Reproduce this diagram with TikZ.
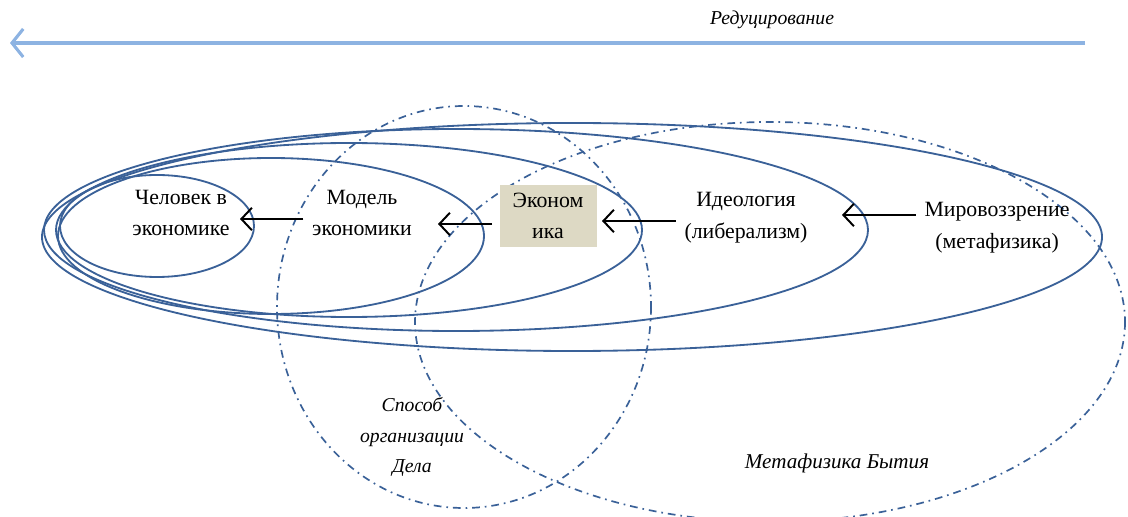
\documentclass[tikz,border=0pt]{standalone}
\usepackage{fontspec}
\setmainfont{Liberation Serif}
\usetikzlibrary{arrows.meta}
\definecolor{ringblue}{HTML}{3A6198}
\definecolor{skyblue}{HTML}{8DB3E2}
\definecolor{boxbeige}{HTML}{DDD9C4}

\begin{document}
\begin{tikzpicture}[x=0.025cm, y=-0.025cm,
    ring/.style={draw=ringblue, line width=1.3pt},
    orbit/.style={draw=ringblue, line width=1.2pt, dash pattern=on 5.5pt off 3.5pt on 1.2pt off 3.5pt},
    word/.style={align=center, inner sep=1pt, font=\fontsize{15.5}{22.5}\selectfont},
    note/.style={align=center, inner sep=1pt, font=\fontsize{14}{21.5}\selectfont\itshape},
    pointer/.style={-{Straight Barb[length=7.5pt, width=16pt]}, line width=1.4pt, shorten <=5pt}]
                \useasboundingbox (0,0) rectangle (1128,517);
                \foreach \cx/\cy/\rx/\ry in {157/226/97/51, 271/236/213/78, 349/230/293/87, 456/230/412/101, 572/237/530/114} {
                    \draw[ring] (\cx,\cy) ellipse ({\rx} and {\ry});
                }
                \draw[orbit] (464,307) ellipse (187 and 201);
                \draw[orbit] (770,322) ellipse (355 and 200);
                \node[word] (man) at (181,213) {Человек в\\экономике};
                \node[word] (model) at (362,213) {Модель\\экономики};
                \node[word, fill=boxbeige, minimum width=97*0.025cm, minimum height=62*0.025cm, inner sep=0pt] (econ) at (548,216) {Эконом\\ика};
                \node[word] (ideo) at (746,218) {Идеология\\(либерализм)};
                \node[word] (world) at (997,228) {Мировоззрение\\(метафизика)};
                \node[note] (reduce) at (772,20) {Редуцирование};
                \node[note] (way) at (412,437) {Способ\\организации\\Дела};
                \node[note, font=\fontsize{15}{21.5}\selectfont\itshape] (being) at (837,463) {Метафизика Бытия};
                \coordinate (start) at (1085,43);
                \coordinate (end) at (10,43);
                \draw[draw=skyblue, line width=2.2pt, -{Straight Barb[length=8pt, width=20pt]}] (start) -- (end);
                \foreach \from/\to/\tip/\y in {world/ideo/842/215, ideo/econ/602/221, econ/model/438/224, model/man/240/219} {
                    \coordinate (T-\to) at (\tip,\y);
                    \draw[pointer] (\from.west |- T-\to) -- (T-\to);
                }
            \end{tikzpicture}
\end{document}
